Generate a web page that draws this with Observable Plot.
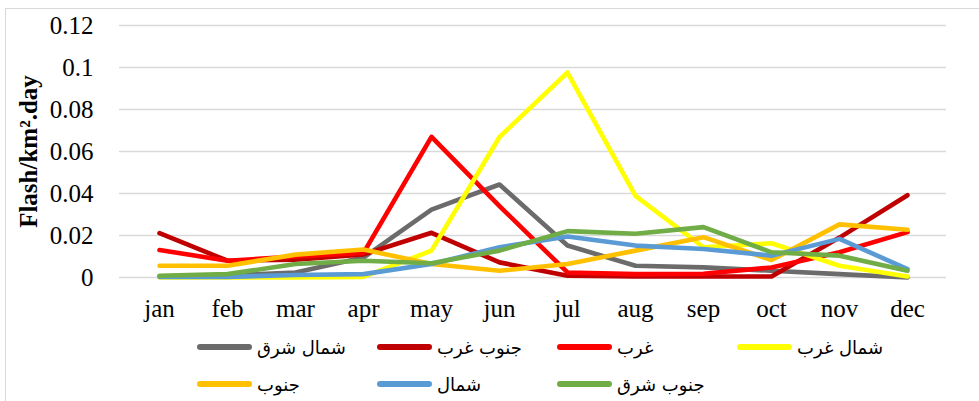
<!DOCTYPE html>
<html>
<head>
<meta charset="utf-8">
<script src="https://cdn.jsdelivr.net/npm/d3@7"></script>
<script src="https://cdn.jsdelivr.net/npm/@observablehq/plot@0.6"></script>
<style>
  html, body { margin: 0; padding: 0; background: #fff; width: 979px; height: 401px; overflow: hidden; }
  #wrap { position: relative; width: 979px; height: 401px; }
  #border { position: absolute; left: 5px; top: 8px; width: 1100px; height: 500px; border: 1.5px solid #d9d9d9; box-sizing: border-box; }
  #chart { position: absolute; left: 0; top: 0; }
  .leg { position: absolute; display: flex; align-items: center; }
  .sw { width: 55px; height: 6px; border-radius: 3px; }
  .lt { font-family: "DejaVu Sans", sans-serif; font-size: 18px; color: #000; margin-left: 5px; direction: rtl; white-space: nowrap; }
</style>
</head>
<body>
<div id="wrap">
  <div id="border"></div>
  <div id="chart"></div>
</div>
<script>
const months = ["jan","feb","mar","apr","may","jun","jul","aug","sep","oct","nov","dec"];
const yTicks = [0, 0.02, 0.04, 0.06, 0.08, 0.1, 0.12];
const yTickLabels = ["0", "0.02", "0.04", "0.06", "0.08", "0.1", "0.12"];
const yLabel = "Flash/km².day";

const seriesNames = ["شمال شرق", "جنوب غرب", "غرب", "شمال غرب", "جنوب", "شمال", "جنوب شرق"];
const seriesColors = ["#6b6b6b", "#c00000", "#ff0000", "#ffff00", "#ffc000", "#5b9bd5", "#70ad47"];

const northEast = [0.0005, 0.001, 0.0024, 0.0095, 0.0323, 0.0443, 0.0152, 0.0056, 0.0048, 0.0032, 0.0016, 0.0];
const southWest = [0.0211, 0.008, 0.0085, 0.011, 0.0213, 0.0072, 0.0008, 0.0005, 0.0005, 0.0005, 0.019, 0.0392];
const west      = [0.0131, 0.008, 0.010, 0.0117, 0.067, 0.034, 0.0024, 0.0016, 0.0018, 0.0048, 0.012, 0.0216];
const northWest = [0.0, 0.0, 0.0, 0.0003, 0.0128, 0.0669, 0.0976, 0.0389, 0.0144, 0.0163, 0.0056, 0.0005];
const south     = [0.0056, 0.0056, 0.0109, 0.0133, 0.0064, 0.0032, 0.0064, 0.0128, 0.0192, 0.0083, 0.0253, 0.0227];
const north     = [0.0003, 0.0003, 0.0012, 0.0016, 0.0064, 0.0144, 0.0195, 0.0152, 0.0136, 0.0104, 0.0184, 0.004];
const southEast = [0.0008, 0.0016, 0.0064, 0.008, 0.0068, 0.0128, 0.0221, 0.0208, 0.024, 0.012, 0.0104, 0.0032];

const seriesValues = [northEast, southWest, west, northWest, south, north, southEast];

const data = [];
seriesValues.forEach((vals, si) => {
  vals.forEach((v, mi) => data.push({series: seriesNames[si], month: months[mi], value: v}));
});

const serif = "'Liberation Serif', 'Times New Roman', serif";

const chart = Plot.plot({
  width: 979,
  height: 330,
  marginLeft: 119,
  marginRight: 33,
  marginTop: 25,
  marginBottom: 53,
  style: { fontFamily: serif, fontSize: "25px", color: "#000", background: "transparent", overflow: "visible" },
  x: { type: "point", domain: months, padding: 0.5, label: null },
  y: { domain: [0, 0.12], ticks: yTicks, label: null },
  color: { domain: seriesNames, range: seriesColors },
  marks: [
    Plot.ruleY(yTicks, { stroke: "#d9d9d9", strokeWidth: 1.6, strokeOpacity: 1 }),
    Plot.axisY(yTicks, { tickSize: 0, tickPadding: 26, tickFormat: (d, i) => yTickLabels[i], fontSize: 25, label: null }),
    Plot.axisX({ tickSize: 0, tickPadding: 22, fontSize: 25, label: null }),
    Plot.line(data, { x: "month", y: "value", z: "series", stroke: "series", strokeWidth: 4.6, strokeLinejoin: "round", strokeLinecap: "round" }),
    Plot.text([yLabel], { frameAnchor: "left", textAnchor: "middle", dx: -91, rotate: -90, fontWeight: "bold", fontSize: 25, fill: "#000", text: d => d })
  ]
});
document.getElementById("chart").appendChild(chart);

// legend
const wrap = document.getElementById("wrap");
const legCols = [197, 377, 557, 737];
const legRows = [347, 384];
seriesNames.forEach((name, i) => {
  const col = i < 4 ? i : i - 4;
  const row = i < 4 ? 0 : 1;
  const el = document.createElement("div");
  el.className = "leg";
  el.style.left = legCols[col] + "px";
  el.style.top = (legRows[row] - 14) + "px";
  el.style.height = "28px";
  const sw = document.createElement("div");
  sw.className = "sw";
  sw.style.background = seriesColors[i];
  const t = document.createElement("span");
  t.className = "lt";
  t.textContent = name;
  el.appendChild(sw);
  el.appendChild(t);
  wrap.appendChild(el);
});
</script>
</body>
</html>
